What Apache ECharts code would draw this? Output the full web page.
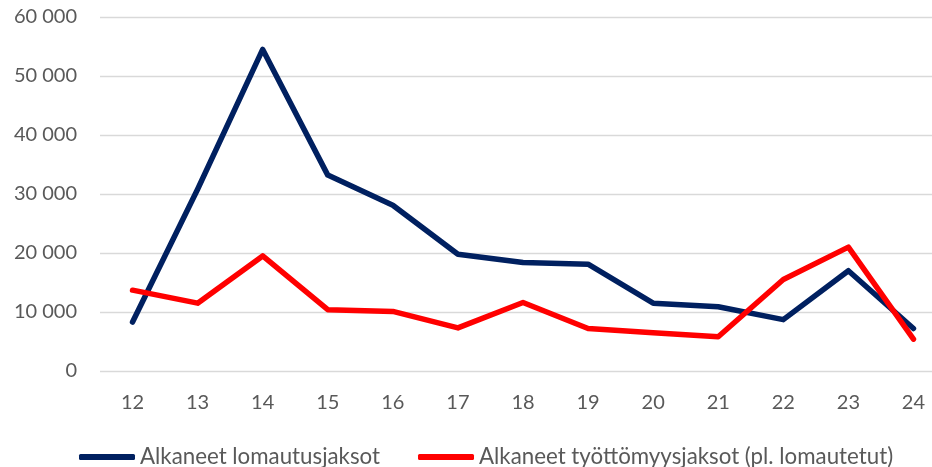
<!DOCTYPE html>
<html>
<head>
<meta charset="utf-8">
<script src="https://cdn.jsdelivr.net/npm/echarts@6/dist/echarts.min.js"></script>
<style>
  html, body { margin: 0; padding: 0; background: #fff; overflow: hidden; }
  /* the reference plot runs a little past the right edge, so the chart is wider than the page */
  #main { width: 946px; height: 467px; }
</style>
</head>
<body>
<div id="main"></div>
<script>
// data
const weeks = ['12', '13', '14', '15', '16', '17', '18', '19', '20', '21', '22', '23', '24'];
const lomautus = [8300, 30800, 54500, 33200, 28100, 19800, 18400, 18100, 11500, 10900, 8700, 17000, 7200];
const tyottomyys = [13700, 11500, 19500, 10400, 10100, 7300, 11600, 7200, 6500, 5800, 15500, 21000, 5400];
const seriesNames = ['Alkaneet lomautusjaksot', 'Alkaneet työttömyysjaksot (pl. lomautetut)'];

const FONT = 'Lato';
const chart = echarts.init(document.getElementById('main'));

chart.setOption({
    animation: false,
    color: ['#002060', '#FF0000'],
    grid: { left: 100, right: 0, top: 17, bottom: 96 },
    legend: {
        data: seriesNames,
        left: 79,
        top: 446,
        padding: 0,
        icon: 'roundRect',
        itemWidth: 56,
        itemHeight: 6,
        itemGap: 38,
        textStyle: { fontFamily: FONT, fontSize: 22.3, color: '#595959' }
    },
    xAxis: {
        type: 'category',
        data: weeks,
        boundaryGap: true,
        axisLine: { show: false },
        axisTick: { show: false },
        axisLabel: { fontFamily: FONT, fontSize: 20, color: '#595959', margin: 22 }
    },
    yAxis: {
        type: 'value',
        min: 0,
        max: 60000,
        interval: 10000,
        axisLine: { show: false },
        axisTick: { show: false },
        splitLine: { lineStyle: { color: '#D9D9D9', width: 1.3 } },
        axisLabel: {
            fontFamily: FONT, fontSize: 20, color: '#595959', margin: 23,
            formatter: v => String(v).replace(/\B(?=(\d{3})+(?!\d))/g, ' ')
        }
    },
    series: [
        {
            name: seriesNames[0],
            type: 'line',
            data: lomautus,
            symbol: 'none',
            lineStyle: { width: 5.5, cap: 'round', join: 'round' }
        },
        {
            name: seriesNames[1],
            type: 'line',
            data: tyottomyys,
            symbol: 'none',
            lineStyle: { width: 5.5, cap: 'round', join: 'round' }
        }
    ]
});
</script>
</body>
</html>
